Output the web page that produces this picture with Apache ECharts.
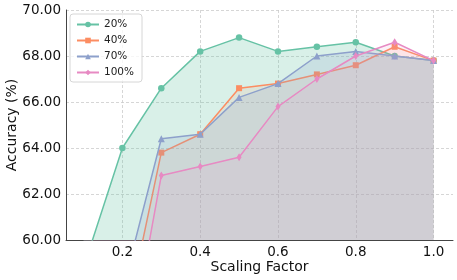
<!DOCTYPE html>
<html><head><meta charset="utf-8">
<script src="https://cdn.jsdelivr.net/npm/echarts@6/dist/echarts.min.js"></script>
<style>html,body{margin:0;padding:0;background:#fff}#c{width:457px;height:280px}</style>
</head><body><div id="c"></div>
<script>
const xs = [0.1, 0.2, 0.3, 0.4, 0.5, 0.6, 0.7, 0.8, 0.9, 1.0];
const s20 = [58.8, 64.0, 66.6, 68.2, 68.8, 68.2, 68.4, 68.6, 68.0, 67.8];
const s40 = [52.0, 55.8, 63.8, 64.6, 66.6, 66.8, 67.2, 67.6, 68.4, 67.8];
const s70 = [54.0, 57.8, 64.4, 64.6, 66.2, 66.8, 68.0, 68.2, 68.0, 67.8];
const s100 = [50.0, 53.5, 62.8, 63.2, 63.6, 65.8, 67.0, 68.0, 68.6, 67.8];
const names = ['20%', '40%', '70%', '100%'];
const xTicks = [0.2, 0.4, 0.6, 0.8, 1.0];
const yTicks = [60, 62, 64, 66, 68, 70];

const colors = ['#66c2a5', '#fc8d62', '#8da0cb', '#e78ac3'];
const fillOpacity = [0.25, 0.12, 0.2, 0.12];
const symbols = ['circle', 'rect', 'triangle', 'diamond'];
const sizes = [6.5, 6, 7, [5, 8]];
const allData = [s20, s40, s70, s100];
const font = 'DejaVu Sans';

const chart = echarts.init(document.getElementById('c'), null, {renderer: 'canvas'});
const series = allData.map((d, i) => ({
  name: names[i],
  type: 'line',
  data: xs.map((x, j) => [x, d[j]]),
  symbol: symbols[i],
  symbolSize: sizes[i],
  showSymbol: true,
  color: colors[i],
  lineStyle: {width: 1.5, color: colors[i]},
  itemStyle: {color: colors[i]},
  areaStyle: {color: colors[i], opacity: fillOpacity[i], origin: 'start'},
  z: 2 + i,
  clip: true,
  animation: false
}));
chart.setOption({
  animation: false,
  grid: {left: 66, top: 10, right: 4, bottom: 40, containLabel: false, outerBoundsMode: 'none'},
  legend: {
    orient: 'vertical', left: 70, top: 14,
    itemWidth: 22, itemHeight: 7, itemGap: 5,
    borderColor: '#d6d6d6', borderWidth: 1, borderRadius: 3,
    padding: [5, 8, 4, 6],
    backgroundColor: 'rgba(255,255,255,0.8)',
    textStyle: {fontFamily: font, fontSize: 10.5, color: '#222'},
    data: names
  },
  xAxis: {
    type: 'value', min: 0.055, max: 1.05,
    name: 'Scaling Factor', nameLocation: 'middle', nameGap: 20, nameMoveOverlap: false,
    nameTextStyle: {fontFamily: font, fontSize: 14, color: '#111'},
    axisLine: {show: true, lineStyle: {color: '#444', width: 1}},
    axisTick: {show: false, customValues: xTicks},
    axisLabel: {customValues: xTicks, fontFamily: font, fontSize: 13.5, color: '#111', margin: 5,
      formatter: v => v.toFixed(1)},
    splitLine: {show: true, lineStyle: {color: '#cccccc', type: [3, 2], width: 0.8}}
  },
  yAxis: {
    type: 'value', min: 60, max: 70, interval: 2,
    name: 'Accuracy (%)', nameLocation: 'middle', nameGap: 47, nameMoveOverlap: false,
    nameTextStyle: {fontFamily: font, fontSize: 14, color: '#111'},
    axisLine: {show: true, lineStyle: {color: '#444', width: 1}},
    axisTick: {show: false},
    axisLabel: {fontFamily: font, fontSize: 13.5, color: '#111', margin: 5,
      formatter: v => v.toFixed(2)},
    splitLine: {show: true, lineStyle: {color: '#cccccc', type: [3, 2], width: 0.8}}
  },
  series: series
});
</script></body></html>
